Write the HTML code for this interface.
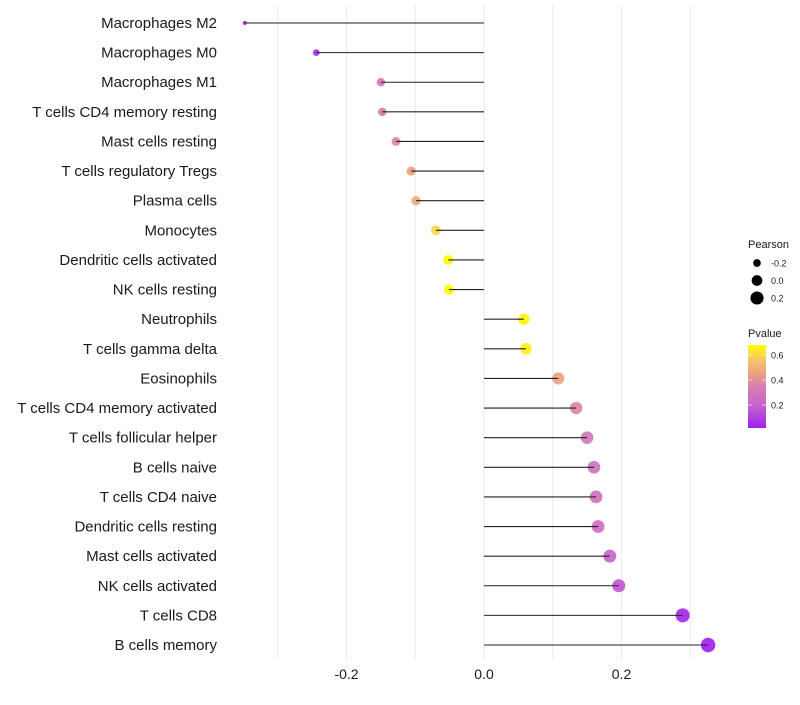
<!DOCTYPE html>
<html><head><meta charset="utf-8"><style>
body{margin:0;background:#fff;font-family:"Liberation Sans",sans-serif}
</style></head><body>
<svg id="c" width="800" height="700" xmlns="http://www.w3.org/2000/svg"></svg>
<script>
const categories=["Macrophages M2","Macrophages M0","Macrophages M1","T cells CD4 memory resting","Mast cells resting","T cells regulatory  Tregs","Plasma cells","Monocytes","Dendritic cells activated","NK cells resting","Neutrophils","T cells gamma delta","Eosinophils","T cells CD4 memory activated","T cells follicular helper","B cells naive","T cells CD4 naive","Dendritic cells resting","Mast cells activated","NK cells activated","T cells CD8","B cells memory"];
const pearson=[-0.348,-0.244,-0.150,-0.148,-0.128,-0.106,-0.099,-0.070,-0.052,-0.051,0.058,0.061,0.108,0.134,0.150,0.160,0.163,0.166,0.183,0.196,0.289,0.326];
const pvalues=[0.02,0.06,0.33,0.33,0.38,0.46,0.48,0.60,0.68,0.68,0.66,0.65,0.46,0.37,0.31,0.28,0.27,0.26,0.21,0.17,0.04,0.02];
const xTicks=[-0.2,0.0,0.2];
const xTickLabels=["-0.2","0.0","0.2"];
const gridVals=[-0.3,-0.2,-0.1,0,0.1,0.2,0.3];
const sizeLegend=[-0.2,0.0,0.2];
const pLegendTicks=[0.2,0.4,0.6];
const NS="http://www.w3.org/2000/svg";
const svg=document.getElementById('c');
function mk(t,a,p){const e=document.createElementNS(NS,t);for(const k in a)e.setAttribute(k,a[k]);(p||svg).appendChild(e);return e;}
const x=v=>484+v*687.5;
const y=i=>23+i*(622/21);
const vmin=-0.348,vmax=0.326;
const rad=v=>{const t=Math.max(0,(v-vmin)/(vmax-vmin));return Math.sqrt(4+t*(52-4));};
const stops=[[0.016,[160,32,240]],[0.2,[200,100,205]],[0.35,[215,128,176]],[0.45,[236,160,128]],[0.55,[245,192,112]],[0.68,[255,255,0]]];
function col(p){if(p<=stops[0][0])return 'rgb('+stops[0][1]+')';for(let i=1;i<stops.length;i++){if(p<=stops[i][0]){const a=stops[i-1],b=stops[i],t=(p-a[0])/(b[0]-a[0]);return 'rgb('+a[1].map((c,j)=>Math.round(c+(b[1][j]-c)*t)).join(',')+')';}}return 'rgb(255,255,0)';}
gridVals.forEach(g=>{const l=mk('line',{x1:x(g),x2:x(g),y1:5,y2:660,stroke:'#ebebeb','stroke-width':1});
});
categories.forEach((c,i)=>{
const t=mk('text',{x:217,y:y(i)+5,'text-anchor':'end','font-size':15,fill:'#1a1a1a'});t.textContent=c;

const d=mk('circle',{cx:x(pearson[i]),cy:y(i),r:rad(pearson[i]),fill:col(pvalues[i]),'fill-opacity':0.92});

const s=mk('line',{x1:x(0),x2:x(pearson[i]),y1:y(i),y2:y(i),stroke:'#222','stroke-width':1.1});

});
xTicks.forEach((v,i)=>{const t=mk('text',{x:x(v),y:679,'text-anchor':'middle','font-size':14,fill:'#1a1a1a'});t.textContent=xTickLabels[i];
});
let t=mk('text',{x:748,y:248,'font-size':11,fill:'#1a1a1a'});t.textContent='Pearson';

sizeLegend.forEach((v,i)=>{const cy=263+i*17.5;const c=mk('circle',{cx:757,cy:cy,r:rad(v),fill:'#000'});

const l=mk('text',{x:771,y:cy+3.5,'font-size':9,fill:'#1a1a1a'});l.textContent=v.toFixed(1);
});
t=mk('text',{x:748,y:337,'font-size':11,fill:'#1a1a1a'});t.textContent='Pvalue';

const defs=mk('defs',{});const gr=mk('linearGradient',{id:'g',x1:0,y1:1,x2:0,y2:0},defs);
stops.forEach(s=>{const o=(s[0]-0.016)/(0.68-0.016);mk('stop',{offset:o,'stop-color':'rgb('+s[1]+')'},gr);});
const bar=mk('rect',{x:748,y:345,width:18,height:83,fill:'url(#g)'});

const py=p=>428-(p-0.016)/(0.68-0.016)*83;
pLegendTicks.forEach(p=>{mk('line',{x1:748,x2:752,y1:py(p),y2:py(p),stroke:'#fff','stroke-width':0.6});mk('line',{x1:762,x2:766,y1:py(p),y2:py(p),stroke:'#fff','stroke-width':0.6});
const l=mk('text',{x:771,y:py(p)+3.5,'font-size':9,fill:'#1a1a1a'});l.textContent=p.toFixed(1);
});
</script>
</body></html>
